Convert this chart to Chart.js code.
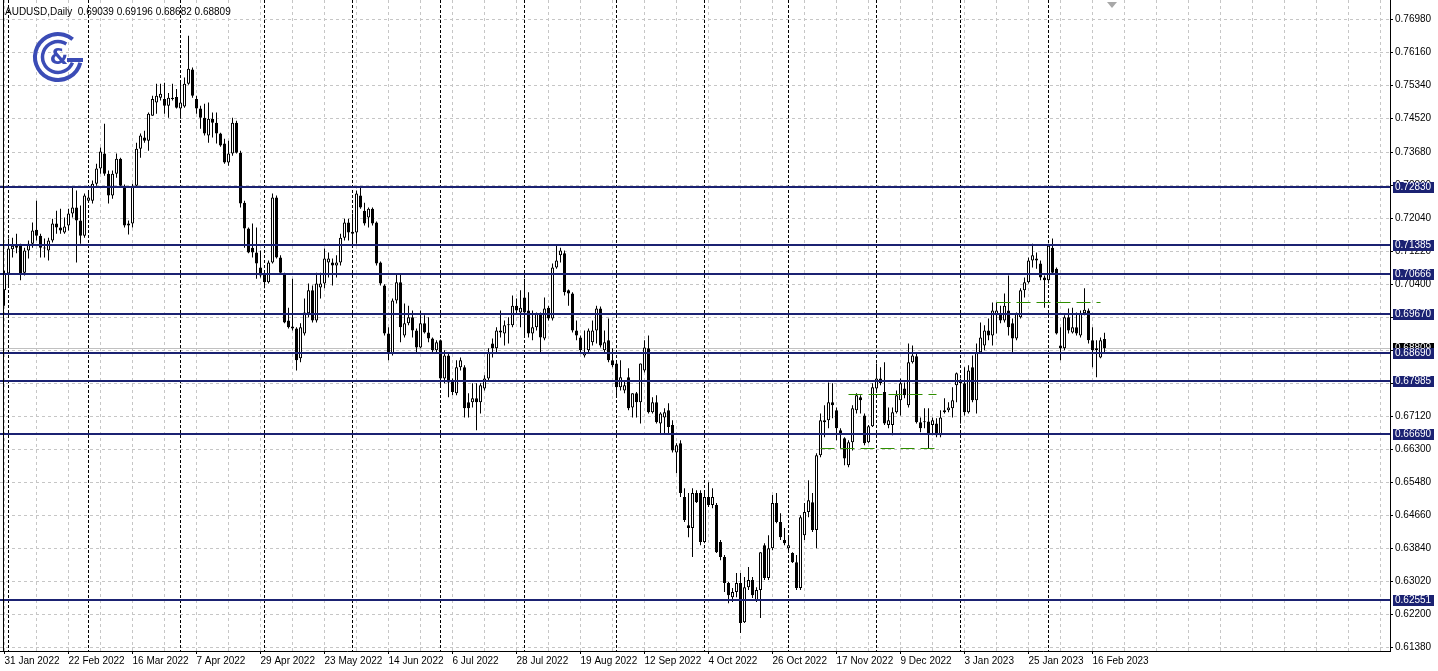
<!DOCTYPE html>
<html>
<head>
<meta charset="utf-8">
<script src="https://cdn.jsdelivr.net/npm/chart.js@4.4.1/dist/chart.umd.min.js"></script>
<style>
  html, body { margin: 0; padding: 0; background: #fff; overflow: hidden; }
  canvas { display: block; }
</style>
</head>
<body>
<canvas id="chart" width="1438" height="671"></canvas>
<script>
// AUDUSD daily candles, 31 Jan 2022 .. 21 Feb 2023 (one entry per bar)
const opens = [
  0.7025, 0.7067, 0.7127, 0.7131, 0.7136, 0.7069, 0.7124, 0.7141, 0.7176, 0.7161,
  0.7131, 0.7124, 0.7149, 0.7191, 0.7181, 0.7169, 0.7186, 0.7216, 0.7231, 0.7199,
  0.7161, 0.7248, 0.7248, 0.7290, 0.7328, 0.7365, 0.7315, 0.7261, 0.7315, 0.7352,
  0.7285, 0.7186, 0.7191, 0.7285, 0.7377, 0.7405, 0.7397, 0.7459, 0.7492, 0.7504,
  0.7501, 0.7484, 0.7501, 0.7506, 0.7477, 0.7482, 0.7539, 0.7574, 0.7501, 0.7477,
  0.7454, 0.7410, 0.7452, 0.7442, 0.7415, 0.7390, 0.7343, 0.7365, 0.7442, 0.7367,
  0.7243, 0.7179, 0.7131, 0.7119, 0.7082, 0.7067, 0.7045, 0.7094, 0.7256, 0.7107,
  0.7067, 0.6950, 0.6935, 0.6930, 0.6856, 0.6918, 0.6968, 0.7025, 0.6950, 0.7032,
  0.7042, 0.7094, 0.7094, 0.7087, 0.7094, 0.7156, 0.7194, 0.7171, 0.7169, 0.7261,
  0.7223, 0.7206, 0.7228, 0.7194, 0.7094, 0.7037, 0.6918, 0.6868, 0.7000, 0.7045,
  0.6913, 0.6943, 0.6958, 0.6925, 0.6883, 0.6943, 0.6920, 0.6905, 0.6876, 0.6901,
  0.6806, 0.6863, 0.6801, 0.6769, 0.6834, 0.6834, 0.6747, 0.6747, 0.6757, 0.6747,
  0.6781, 0.6806, 0.6893, 0.6881, 0.6925, 0.6918, 0.6938, 0.6938, 0.6987, 0.6970,
  0.7007, 0.6975, 0.6918, 0.6933, 0.6968, 0.6905, 0.6982, 0.6955, 0.7082, 0.7112,
  0.7117, 0.7025, 0.7017, 0.6925, 0.6908, 0.6863, 0.6876, 0.6896, 0.6925, 0.6980,
  0.6876, 0.6901, 0.6851, 0.6843, 0.6784, 0.6776, 0.6809, 0.6734, 0.6769, 0.6747,
  0.6826, 0.6881, 0.6722, 0.6747, 0.6694, 0.6709, 0.6727, 0.6690, 0.6622, 0.6645,
  0.6511, 0.6441, 0.6434, 0.6521, 0.6521, 0.6399, 0.6511, 0.6491, 0.6491, 0.6399,
  0.6362, 0.6297, 0.6262, 0.6275, 0.6297, 0.6200, 0.6287, 0.6305, 0.6255, 0.6280,
  0.6391, 0.6310, 0.6384, 0.6496, 0.6449, 0.6404, 0.6384, 0.6372, 0.6349, 0.6285,
  0.6416, 0.6474, 0.6498, 0.6429, 0.6615, 0.6697, 0.6702, 0.6747, 0.6727, 0.6677,
  0.6657, 0.6590, 0.6647, 0.6727, 0.6759, 0.6714, 0.6647, 0.6687, 0.6781, 0.6806,
  0.6772, 0.6690, 0.6690, 0.6722, 0.6752, 0.6781, 0.6739, 0.6846, 0.6861, 0.6697,
  0.6697, 0.6699, 0.6690, 0.6694, 0.6665, 0.6722, 0.6727, 0.6732, 0.6789, 0.6801,
  0.6794, 0.6722, 0.6834, 0.6752, 0.6871, 0.6888, 0.6925, 0.6913, 0.6963, 0.6968,
  0.6950, 0.6975, 0.6943, 0.6905, 0.6958, 0.7025, 0.7045, 0.7099, 0.7099, 0.7092,
  0.7057, 0.7050, 0.7131, 0.7079, 0.6888, 0.6881, 0.6958, 0.6920, 0.6933, 0.6913,
  0.6968, 0.6975, 0.6901, 0.6881, 0.6858, 0.69039
];
const highs = [
  0.7074, 0.7154, 0.7156, 0.7166, 0.7141, 0.7131, 0.7149, 0.7194, 0.7248, 0.7166,
  0.7154, 0.7156, 0.7203, 0.7223, 0.7228, 0.7206, 0.7228, 0.7280, 0.7273, 0.7236,
  0.7266, 0.7268, 0.7298, 0.7340, 0.7380, 0.7439, 0.7323, 0.7323, 0.7365, 0.7355,
  0.7288, 0.7199, 0.7290, 0.7392, 0.7415, 0.7422, 0.7467, 0.7509, 0.7539, 0.7539,
  0.7541, 0.7516, 0.7539, 0.7526, 0.7546, 0.7554, 0.7658, 0.7579, 0.7509, 0.7484,
  0.7489, 0.7492, 0.7467, 0.7467, 0.7417, 0.7402, 0.7397, 0.7454, 0.7447, 0.7372,
  0.7248, 0.7181, 0.7191, 0.7181, 0.7124, 0.7074, 0.7099, 0.7266, 0.7261, 0.7112,
  0.7069, 0.6982, 0.7054, 0.6933, 0.6943, 0.7005, 0.7042, 0.7037, 0.7069, 0.7069,
  0.7129, 0.7119, 0.7104, 0.7112, 0.7166, 0.7203, 0.7203, 0.7216, 0.7273, 0.7280,
  0.7243, 0.7231, 0.7231, 0.7196, 0.7097, 0.7040, 0.6933, 0.7005, 0.7067, 0.7067,
  0.6992, 0.6987, 0.6975, 0.6930, 0.6975, 0.6963, 0.6958, 0.6908, 0.6901, 0.6903,
  0.6876, 0.6868, 0.6806, 0.6851, 0.6858, 0.6839, 0.6769, 0.6794, 0.6794, 0.6794,
  0.6814, 0.6881, 0.6905, 0.6933, 0.6975, 0.6950, 0.6958, 0.7012, 0.7005, 0.7025,
  0.7054, 0.7020, 0.6975, 0.6970, 0.6970, 0.7007, 0.6987, 0.7092, 0.7136, 0.7131,
  0.7124, 0.7027, 0.7020, 0.6950, 0.6913, 0.6925, 0.6930, 0.6950, 0.6987, 0.6985,
  0.6925, 0.6955, 0.6881, 0.6846, 0.6851, 0.6801, 0.6831, 0.6769, 0.6772, 0.6843,
  0.6901, 0.6913, 0.6759, 0.6764, 0.6722, 0.6732, 0.6744, 0.6702, 0.6645, 0.6652,
  0.6533, 0.6521, 0.6533, 0.6528, 0.6528, 0.6523, 0.6548, 0.6533, 0.6496, 0.6404,
  0.6367, 0.6300, 0.6285, 0.6322, 0.6322, 0.6312, 0.6337, 0.6312, 0.6287, 0.6374,
  0.6396, 0.6416, 0.6516, 0.6521, 0.6471, 0.6434, 0.6416, 0.6374, 0.6367, 0.6466,
  0.6496, 0.6553, 0.6521, 0.6620, 0.6719, 0.6739, 0.6796, 0.6794, 0.6734, 0.6682,
  0.6660, 0.6652, 0.6739, 0.6769, 0.6764, 0.6719, 0.6690, 0.6794, 0.6843, 0.6834,
  0.6846, 0.6734, 0.6734, 0.6776, 0.6806, 0.6796, 0.6893, 0.6888, 0.6871, 0.6709,
  0.6732, 0.6732, 0.6709, 0.6707, 0.6727, 0.6757, 0.6747, 0.6784, 0.6821, 0.6806,
  0.6834, 0.6839, 0.6863, 0.6893, 0.6945, 0.6938, 0.6955, 0.6995, 0.6995, 0.6987,
  0.7017, 0.7062, 0.6955, 0.6970, 0.7030, 0.7057, 0.7107, 0.7141, 0.7119, 0.7099,
  0.7062, 0.7141, 0.7154, 0.7082, 0.6933, 0.6963, 0.6980, 0.6982, 0.6970, 0.6975,
  0.7030, 0.6980, 0.6933, 0.6901, 0.6908, 0.69196
];
const lows = [
  0.6987, 0.7037, 0.7107, 0.7117, 0.7050, 0.7062, 0.7104, 0.7131, 0.7149, 0.7107,
  0.7107, 0.7099, 0.7144, 0.7166, 0.7166, 0.7166, 0.7174, 0.7206, 0.7094, 0.7141,
  0.7156, 0.7243, 0.7241, 0.7285, 0.7315, 0.7310, 0.7241, 0.7253, 0.7305, 0.7280,
  0.7181, 0.7164, 0.7181, 0.7280, 0.7355, 0.7392, 0.7372, 0.7459, 0.7464, 0.7497,
  0.7464, 0.7454, 0.7497, 0.7477, 0.7452, 0.7479, 0.7536, 0.7504, 0.7464, 0.7427,
  0.7410, 0.7392, 0.7405, 0.7390, 0.7382, 0.7340, 0.7335, 0.7360, 0.7365, 0.7231,
  0.7131, 0.7117, 0.7107, 0.7054, 0.7057, 0.7030, 0.7042, 0.7092, 0.7104, 0.7067,
  0.6943, 0.6930, 0.6925, 0.6826, 0.6846, 0.6913, 0.6958, 0.6945, 0.6945, 0.7005,
  0.7030, 0.7057, 0.7037, 0.7057, 0.7087, 0.7149, 0.7149, 0.7136, 0.7141, 0.7228,
  0.7186, 0.7181, 0.7186, 0.7087, 0.7037, 0.6913, 0.6851, 0.6863, 0.6992, 0.6896,
  0.6908, 0.6938, 0.6908, 0.6868, 0.6881, 0.6918, 0.6896, 0.6871, 0.6868, 0.6784,
  0.6794, 0.6759, 0.6764, 0.6764, 0.6826, 0.6709, 0.6709, 0.6734, 0.6677, 0.6719,
  0.6776, 0.6801, 0.6858, 0.6871, 0.6908, 0.6888, 0.6893, 0.6933, 0.6968, 0.6933,
  0.6908, 0.6908, 0.6901, 0.6925, 0.6871, 0.6901, 0.6950, 0.6950, 0.7079, 0.7094,
  0.7012, 0.6987, 0.6920, 0.6901, 0.6871, 0.6858, 0.6871, 0.6888, 0.6893, 0.6883,
  0.6871, 0.6846, 0.6834, 0.6764, 0.6776, 0.6769, 0.6727, 0.6709, 0.6709, 0.6694,
  0.6821, 0.6719, 0.6719, 0.6694, 0.6670, 0.6670, 0.6670, 0.6622, 0.6570, 0.6511,
  0.6449, 0.6411, 0.6362, 0.6496, 0.6391, 0.6396, 0.6486, 0.6483, 0.6372, 0.6354,
  0.6275, 0.6247, 0.6250, 0.6262, 0.6173, 0.6198, 0.6280, 0.6260, 0.6250, 0.6210,
  0.6305, 0.6305, 0.6379, 0.6446, 0.6404, 0.6391, 0.6374, 0.6347, 0.6280, 0.6280,
  0.6404, 0.6461, 0.6424, 0.6384, 0.6610, 0.6660, 0.6682, 0.6707, 0.6652, 0.6632,
  0.6590, 0.6585, 0.6627, 0.6719, 0.6719, 0.6640, 0.6645, 0.6685, 0.6776, 0.6789,
  0.6690, 0.6682, 0.6665, 0.6719, 0.6714, 0.6757, 0.6734, 0.6843, 0.6694, 0.6672,
  0.6682, 0.6632, 0.6665, 0.6660, 0.6660, 0.6719, 0.6722, 0.6709, 0.6747, 0.6694,
  0.6714, 0.6719, 0.6747, 0.6719, 0.6868, 0.6876, 0.6901, 0.6888, 0.6918, 0.6943,
  0.6945, 0.6913, 0.6871, 0.6901, 0.6955, 0.7007, 0.7042, 0.7082, 0.7079, 0.7050,
  0.6982, 0.7042, 0.7067, 0.6915, 0.6851, 0.6876, 0.6918, 0.6918, 0.6913, 0.6908,
  0.6963, 0.6893, 0.6834, 0.6809, 0.6856, 0.68682
];
const closes = [
  0.7067, 0.7129, 0.7136, 0.7136, 0.7067, 0.7124, 0.7141, 0.7174, 0.7161, 0.7131,
  0.7129, 0.7149, 0.7191, 0.7181, 0.7174, 0.7184, 0.7216, 0.7231, 0.7199, 0.7161,
  0.7261, 0.7256, 0.7290, 0.7328, 0.7370, 0.7315, 0.7261, 0.7315, 0.7352, 0.7285,
  0.7186, 0.7191, 0.7285, 0.7377, 0.7410, 0.7397, 0.7464, 0.7501, 0.7509, 0.7514,
  0.7484, 0.7504, 0.7504, 0.7479, 0.7492, 0.7539, 0.7576, 0.7509, 0.7477, 0.7454,
  0.7415, 0.7452, 0.7442, 0.7415, 0.7385, 0.7343, 0.7365, 0.7442, 0.7367, 0.7241,
  0.7179, 0.7119, 0.7119, 0.7092, 0.7062, 0.7045, 0.7094, 0.7256, 0.7107, 0.7069,
  0.6945, 0.6933, 0.6930, 0.6851, 0.6933, 0.6970, 0.7025, 0.6950, 0.7042, 0.7042,
  0.7104, 0.7104, 0.7087, 0.7094, 0.7156, 0.7194, 0.7169, 0.7166, 0.7266, 0.7231,
  0.7191, 0.7228, 0.7191, 0.7092, 0.7042, 0.6918, 0.6868, 0.7000, 0.7045, 0.6933,
  0.6943, 0.6958, 0.6925, 0.6883, 0.6943, 0.6920, 0.6905, 0.6876, 0.6896, 0.6806,
  0.6863, 0.6796, 0.6772, 0.6834, 0.6851, 0.6732, 0.6732, 0.6757, 0.6747, 0.6789,
  0.6806, 0.6871, 0.6881, 0.6925, 0.6920, 0.6938, 0.6940, 0.6987, 0.6975, 0.6982,
  0.6970, 0.6918, 0.6933, 0.6968, 0.6908, 0.6980, 0.6955, 0.7082, 0.7099, 0.7124,
  0.7020, 0.7017, 0.6925, 0.6913, 0.6876, 0.6871, 0.6925, 0.6925, 0.6980, 0.6888,
  0.6896, 0.6851, 0.6839, 0.6784, 0.6809, 0.6789, 0.6732, 0.6769, 0.6747, 0.6843,
  0.6883, 0.6722, 0.6747, 0.6697, 0.6719, 0.6722, 0.6685, 0.6627, 0.6640, 0.6521,
  0.6454, 0.6434, 0.6521, 0.6498, 0.6399, 0.6511, 0.6491, 0.6511, 0.6374, 0.6362,
  0.6297, 0.6267, 0.6275, 0.6297, 0.6198, 0.6287, 0.6305, 0.6267, 0.6280, 0.6374,
  0.6310, 0.6384, 0.6496, 0.6449, 0.6411, 0.6396, 0.6391, 0.6349, 0.6285, 0.6461,
  0.6474, 0.6503, 0.6429, 0.6615, 0.6702, 0.6702, 0.6747, 0.6739, 0.6682, 0.6670,
  0.6607, 0.6647, 0.6732, 0.6764, 0.6752, 0.6645, 0.6687, 0.6784, 0.6806, 0.6794,
  0.6694, 0.6702, 0.6722, 0.6764, 0.6794, 0.6764, 0.6846, 0.6863, 0.6697, 0.6682,
  0.6699, 0.6670, 0.6702, 0.6665, 0.6709, 0.6727, 0.6734, 0.6752, 0.6819, 0.6794,
  0.6722, 0.6826, 0.6752, 0.6871, 0.6908, 0.6925, 0.6913, 0.6975, 0.6975, 0.6950,
  0.6987, 0.6933, 0.6905, 0.6968, 0.7025, 0.7045, 0.7099, 0.7112, 0.7104, 0.7057,
  0.7050, 0.7136, 0.7069, 0.6918, 0.6881, 0.6958, 0.6925, 0.6933, 0.6918, 0.6968,
  0.6977, 0.6901, 0.6876, 0.6876, 0.6901, 0.68809
];

// one label every 16 bars, starting at bar 0
const dateLabels = [
  '31 Jan 2022', '22 Feb 2022', '16 Mar 2022', '7 Apr 2022', '29 Apr 2022', '23 May 2022',
  '14 Jun 2022', '6 Jul 2022', '28 Jul 2022', '19 Aug 2022', '12 Sep 2022', '4 Oct 2022',
  '26 Oct 2022', '17 Nov 2022', '9 Dec 2022', '3 Jan 2023', '25 Jan 2023', '16 Feb 2023'
];
const priceTicks = [
  0.7698, 0.7616, 0.7534, 0.7452, 0.7368, 0.7286, 0.7204, 0.7122, 0.7040, 0.6958,
  0.6876, 0.6794, 0.6712, 0.6630, 0.6548, 0.6466, 0.6384, 0.6302, 0.6220, 0.6138
];
// horizontal support / resistance levels
const levels = [0.72830, 0.71385, 0.70666, 0.69670, 0.68690, 0.67985, 0.66690, 0.62551];
// bar index of the first trading day of each month (period separators)
const monthStarts = [1, 21, 44, 65, 87, 109, 130, 153, 175, 196, 218, 239, 261];
// short green dashed lines: [from bar, to bar, price]
const greenLines = [
  [204, 234, 0.6632],
  [211, 233, 0.6767],
  [248, 274, 0.6995]
];
const lastPrice = 0.68809;
const header = 'AUDUSD,Daily  0.69039 0.69196 0.68682 0.68809';

const FONT = '"Liberation Sans", Arial, sans-serif';
const NAVY = '#1b2272';
const barIndex = opens.map((v, i) => i);

function drawLogo(ctx) {
    const cx = 58, cy = 57;
    ctx.save();
    ctx.strokeStyle = '#3b4cb6';
    ctx.fillStyle = '#3b4cb6';
    ctx.lineCap = 'butt';
    ctx.lineWidth = 4;
    ctx.beginPath();
    ctx.arc(cx, cy, 23, 0.08 * Math.PI, 1.72 * Math.PI);
    ctx.stroke();
    ctx.lineWidth = 3.5;
    ctx.beginPath();
    ctx.arc(cx, cy, 15.5, 0.12 * Math.PI, 1.68 * Math.PI);
    ctx.stroke();
    ctx.lineWidth = 4;
    ctx.beginPath();
    ctx.moveTo(cx + 9, cy + 3);
    ctx.lineTo(cx + 25, cy + 3);
    ctx.stroke();
    ctx.font = 'bold 21px "DejaVu Sans", sans-serif';
    ctx.textAlign = 'center';
    ctx.textBaseline = 'middle';
    ctx.fillText('&', cx + 1, cy + 2);
    ctx.restore();
}

const mtPlugin = {
    id: 'mtDecor',
    beforeDraw(chart) {
        const ctx = chart.ctx;
        ctx.save();
        ctx.fillStyle = '#fff';
        ctx.fillRect(0, 0, chart.width, chart.height);
        ctx.restore();
    },
    beforeDatasetsDraw(chart) {
        const {ctx, chartArea: a, scales: {x, y}} = chart;
        ctx.save();
        ctx.lineWidth = 1;
        // light grid
        ctx.strokeStyle = '#c6c6c6';
        ctx.setLineDash([3, 3]);
        for (let v = 0; v <= 344; v += 8) {
            const px = x.getPixelForValue(v);
            ctx.beginPath(); ctx.moveTo(px, a.top); ctx.lineTo(px, a.bottom); ctx.stroke();
        }
        priceTicks.forEach(t => {
            const py = Math.floor(y.getPixelForValue(t)) + 0.5;
            ctx.beginPath(); ctx.moveTo(a.left, py); ctx.lineTo(a.right, py); ctx.stroke();
        });
        // month separators
        ctx.strokeStyle = '#000';
        ctx.setLineDash([3, 2]);
        monthStarts.forEach(i => {
            const px = x.getPixelForValue(i);
            ctx.beginPath(); ctx.moveTo(px, a.top); ctx.lineTo(px, a.bottom); ctx.stroke();
        });
        // bid line
        ctx.setLineDash([]);
        ctx.strokeStyle = '#c0c0c0';
        const bidY = Math.floor(y.getPixelForValue(lastPrice)) + 0.5;
        ctx.beginPath(); ctx.moveTo(a.left, bidY); ctx.lineTo(a.right, bidY); ctx.stroke();
        ctx.restore();
    },
    afterDatasetsDraw(chart) {
        const {ctx, chartArea: a, scales: {x, y}} = chart;
        ctx.save();
        // levels
        ctx.strokeStyle = NAVY;
        ctx.lineWidth = 2;
        levels.forEach(lv => {
            const py = Math.round(y.getPixelForValue(lv));
            ctx.beginPath(); ctx.moveTo(a.left, py); ctx.lineTo(a.right, py); ctx.stroke();
        });
        // green dashed lines
        ctx.strokeStyle = '#2f8f00';
        ctx.lineWidth = 1;
        ctx.setLineDash([14, 6]);
        greenLines.forEach(([from, to, p]) => {
            const py = Math.floor(y.getPixelForValue(p)) + 0.5;
            ctx.beginPath();
            ctx.moveTo(x.getPixelForValue(from), py);
            ctx.lineTo(x.getPixelForValue(to), py);
            ctx.stroke();
        });
        ctx.restore();
    },
    afterDraw(chart) {
        const {ctx, chartArea: a, scales: {y}} = chart;
        ctx.save();
        // left frame
        ctx.fillStyle = '#000';
        ctx.fillRect(3, 0, 1, a.bottom);
        // price boxes on the axis
        ctx.font = '10px ' + FONT;
        ctx.textBaseline = 'middle';
        ctx.textAlign = 'left';
        const box = (p, fill) => {
            const py = Math.round(y.getPixelForValue(p));
            ctx.fillStyle = fill;
            ctx.fillRect(a.right + 3, py - 5, 41, 11);
            ctx.fillStyle = '#fff';
            ctx.fillText(p.toFixed(5), a.right + 5, py + 0.5);
        };
        box(lastPrice, '#000');
        levels.forEach(lv => box(lv, NAVY));
        // header
        ctx.fillStyle = '#000';
        ctx.font = '10px ' + FONT;
        ctx.fillText(header, 5, 12);
        // shift marker
        ctx.fillStyle = '#a8a8a8';
        ctx.beginPath();
        ctx.moveTo(1107, 2); ctx.lineTo(1117, 2); ctx.lineTo(1112, 8); ctx.closePath();
        ctx.fill();
        ctx.restore();
        drawLogo(ctx);
    }
};

const ctx = document.getElementById('chart').getContext('2d');
new Chart(ctx, {
    type: 'bar',
    data: {
        datasets: [
            {
                label: 'bodies',
                data: barIndex.map(i => ({x: i, y: [opens[i], closes[i]]})),
                backgroundColor: c => closes[c.dataIndex] >= opens[c.dataIndex] ? '#fff' : '#000',
                borderColor: '#000',
                borderWidth: 1,
                borderSkipped: false,
                barThickness: 3,
                minBarLength: 1,
                inflateAmount: 0,
                grouped: false,
                order: 0
            },
            {
                label: 'wicks',
                data: barIndex.map(i => ({x: i, y: [lows[i], highs[i]]})),
                backgroundColor: '#000',
                borderWidth: 0,
                barThickness: 1,
                inflateAmount: 0,
                grouped: false,
                order: 1
            }
        ]
    },
    options: {
        responsive: false,
        animation: false,
        devicePixelRatio: 1,
        layout: { padding: 0 },
        plugins: {
            legend: { display: false },
            tooltip: { enabled: false }
        },
        scales: {
            x: {
                type: 'linear',
                offset: false,
                min: -1.125,
                max: 346.375,
                afterBuildTicks: s => {
                    s.ticks = [];
                    for (let v = 0; v <= 344; v += 8) s.ticks.push({value: v});
                },
                afterFit: s => { s.height = 20; s.paddingLeft = 0; s.paddingRight = 0; },
                grid: {
                    offset: false,
                    drawOnChartArea: false,
                    drawTicks: true,
                    tickLength: 3,
                    tickColor: c => (c.tick && c.tick.value % 16 === 0 && c.tick.value / 16 < dateLabels.length) ? '#000' : 'rgba(0,0,0,0)'
                },
                border: { display: true, color: '#000', width: 1 },
                ticks: {
                    autoSkip: false,
                    maxRotation: 0,
                    align: 'start',
                    padding: 1,
                    color: '#000',
                    font: { family: FONT, size: 10 },
                    callback: v => (v % 16 === 0 && v / 16 < dateLabels.length) ? dateLabels[v / 16] : ''
                }
            },
            y: {
                position: 'right',
                min: 0.61282,
                max: 0.77470,
                afterBuildTicks: s => { s.ticks = priceTicks.map(v => ({value: v})); },
                afterFit: s => { s.width = 48; s.paddingTop = 0; s.paddingBottom = 0; },
                grid: { drawOnChartArea: false, drawTicks: true, tickLength: 3, tickColor: '#000' },
                border: { display: true, color: '#000', width: 1 },
                ticks: {
                    padding: 2,
                    color: '#000',
                    font: { family: FONT, size: 10 },
                    callback: v => v.toFixed(5)
                }
            }
        }
    },
    plugins: [mtPlugin]
});
</script>
</body>
</html>
